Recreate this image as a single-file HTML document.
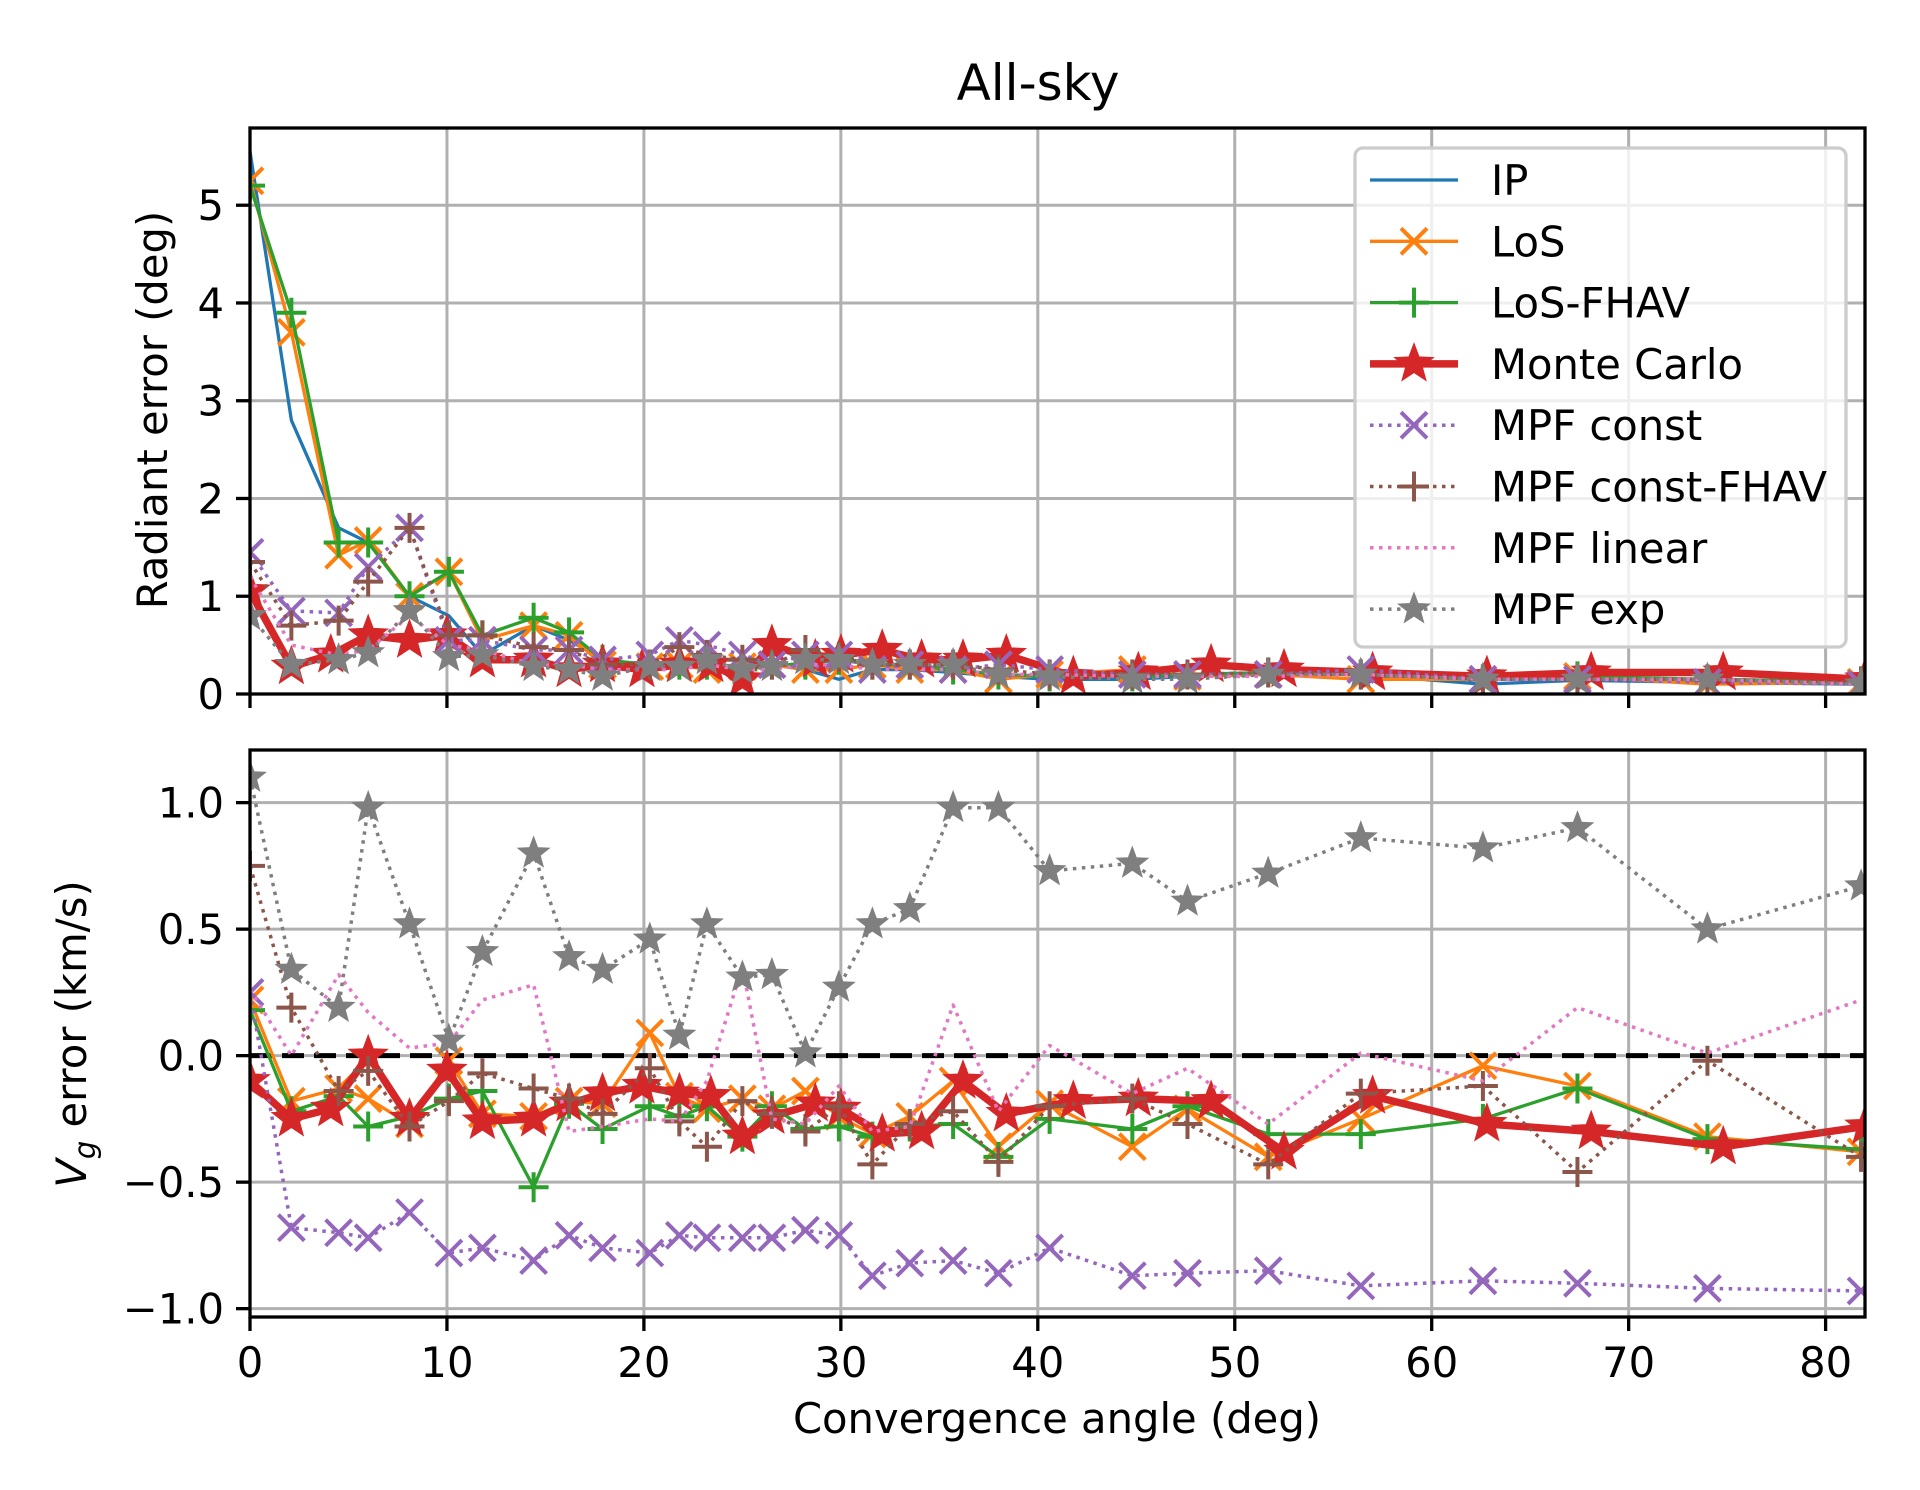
<!DOCTYPE html>
<html><head><meta charset="utf-8">
<style>
html,body{margin:0;padding:0;background:#fff;}
svg{display:block;font-family:"DejaVu Sans","Liberation Sans",sans-serif;}
</style></head>
<body>
<svg id="fig" width="1920" height="1490" viewBox="0 0 1920 1490" xmlns="http://www.w3.org/2000/svg">
<rect width="1920" height="1490" fill="#fff"/>
<text x="1038" y="100" font-size="50" text-anchor="middle">All-sky</text>
<text transform="translate(167,410) rotate(-90)" font-size="41.7" text-anchor="middle">Radiant error (deg)</text>
<text transform="translate(86,1034) rotate(-90)" font-size="41.7" text-anchor="middle"><tspan font-style="italic">V</tspan><tspan font-style="italic" font-size="29" dy="9">g</tspan><tspan dy="-9"> error (km/s)</tspan></text>
<text x="1057" y="1433" font-size="41.7" text-anchor="middle">Convergence angle (deg)</text>
<g id="top"></g>
<g id="bot"></g>
<g id="legend"></g>
</svg>
<script>
// ---- data ----
const xStd = [0,2.1,4.5,6.0,8.1,10.1,11.8,14.4,16.2,17.9,20.3,21.8,23.2,25.0,26.5,28.2,29.9,31.6,33.5,35.7,38.0,40.6,44.8,47.6,51.7,56.4,62.6,67.4,74.0,81.8];
const xMC = [0,2.1,4.1,6.0,8.1,10.0,11.8,14.4,16.2,17.9,19.9,21.8,23.4,25.0,26.5,28.7,30.0,32.1,34.1,36.2,38.4,41.8,45.1,48.8,52.5,57.0,62.8,68.1,74.8,82];
const xTicks = [0,10,20,30,40,50,60,70,80];
const topTicks = [0,1,2,3,4,5];
const botTicks = [-1.0,-0.5,0.0,0.5,1.0];
const botTickLabels = ["\u22121.0","\u22120.5","0.0","0.5","1.0"];

const radIP = [5.55,2.80,1.70,1.55,1.00,0.80,0.40,0.70,0.55,0.35,0.30,0.28,0.30,0.25,0.30,0.25,0.15,0.25,0.25,0.22,0.18,0.15,0.15,0.18,0.20,0.20,0.10,0.14,0.12,0.10];
const radLoS = [5.25,3.70,1.42,1.57,1.00,1.25,0.55,0.70,0.60,0.30,0.28,0.30,0.25,0.28,0.30,0.25,0.25,0.30,0.25,0.25,0.15,0.20,0.25,0.18,0.20,0.15,0.15,0.18,0.10,0.12];
const radLoSF = [5.20,3.90,1.55,1.55,1.00,1.25,0.60,0.78,0.63,0.35,0.30,0.30,0.30,0.25,0.30,0.30,0.35,0.30,0.30,0.25,0.20,0.18,0.18,0.20,0.22,0.20,0.15,0.18,0.15,0.13];
const radMC = [1.05,0.28,0.40,0.60,0.55,0.60,0.35,0.35,0.25,0.30,0.25,0.30,0.30,0.15,0.50,0.35,0.40,0.45,0.35,0.35,0.40,0.18,0.22,0.30,0.25,0.22,0.18,0.22,0.22,0.15];
const radConst = [1.45,0.85,0.83,1.30,1.70,0.55,0.55,0.45,0.45,0.35,0.40,0.55,0.50,0.40,0.30,0.40,0.40,0.25,0.30,0.25,0.30,0.25,0.20,0.20,0.20,0.25,0.15,0.15,0.12,0.10];
const radConstF = [1.35,0.70,0.75,1.15,1.70,0.60,0.60,0.48,0.45,0.30,0.30,0.48,0.40,0.35,0.30,0.45,0.38,0.30,0.30,0.30,0.25,0.20,0.20,0.20,0.22,0.20,0.15,0.15,0.15,0.12];
const radLin = [1.20,0.50,0.40,0.45,0.80,0.50,0.45,0.30,0.30,0.25,0.25,0.25,0.30,0.25,0.25,0.30,0.30,0.25,0.25,0.25,0.20,0.20,0.18,0.18,0.18,0.20,0.15,0.15,0.15,0.10];
const radExp = [0.80,0.30,0.35,0.42,0.85,0.38,0.40,0.28,0.25,0.18,0.28,0.28,0.35,0.25,0.28,0.35,0.35,0.30,0.30,0.30,0.20,0.18,0.15,0.15,0.20,0.20,0.15,0.15,0.15,0.10];

const vgLoS = [0.22,-0.18,-0.13,-0.17,-0.27,-0.02,-0.23,-0.24,-0.18,-0.19,0.09,-0.16,-0.21,-0.17,-0.21,-0.14,-0.24,-0.31,-0.24,-0.10,-0.36,-0.19,-0.36,-0.21,-0.40,-0.25,-0.04,-0.12,-0.32,-0.38];
const vgLoSF = [0.18,-0.22,-0.16,-0.28,-0.24,-0.17,-0.14,-0.52,-0.19,-0.29,-0.20,-0.24,-0.20,-0.32,-0.20,-0.29,-0.28,-0.32,-0.28,-0.27,-0.40,-0.25,-0.29,-0.20,-0.31,-0.31,-0.25,-0.13,-0.33,-0.37];
const vgMC = [-0.10,-0.25,-0.21,0.00,-0.25,-0.06,-0.26,-0.25,-0.19,-0.15,-0.12,-0.15,-0.16,-0.32,-0.24,-0.19,-0.21,-0.31,-0.30,-0.10,-0.23,-0.18,-0.17,-0.18,-0.38,-0.16,-0.27,-0.30,-0.36,-0.28];
const vgConst = [0.25,-0.68,-0.70,-0.72,-0.62,-0.78,-0.76,-0.81,-0.71,-0.76,-0.78,-0.71,-0.72,-0.72,-0.72,-0.69,-0.71,-0.87,-0.82,-0.81,-0.86,-0.76,-0.87,-0.86,-0.85,-0.91,-0.89,-0.90,-0.92,-0.93];
const vgConstF = [0.75,0.19,-0.14,-0.06,-0.28,-0.18,-0.07,-0.13,-0.17,-0.23,-0.05,-0.26,-0.36,-0.18,-0.23,-0.30,-0.20,-0.43,-0.27,-0.22,-0.42,-0.20,-0.17,-0.27,-0.43,-0.15,-0.12,-0.46,-0.02,-0.40];
const vgLin = [0.26,0.00,0.32,0.17,0.03,0.05,0.22,0.28,-0.30,-0.28,-0.25,-0.26,-0.10,0.35,-0.25,-0.27,-0.12,-0.30,-0.28,0.20,-0.22,0.04,-0.15,-0.05,-0.27,0.01,-0.10,0.19,0.01,0.22];
const vgExp = [1.10,0.34,0.19,0.98,0.52,0.06,0.41,0.80,0.39,0.34,0.46,0.08,0.52,0.31,0.32,0.01,0.27,0.52,0.58,0.98,0.98,0.73,0.76,0.61,0.72,0.86,0.82,0.90,0.50,0.67];

// ---- layout ----
const NS = "http://www.w3.org/2000/svg";
const L = 250, R = 1865;
const X0 = 0, X1 = 82;
const xs = v => L + (v - X0) / (X1 - X0) * (R - L);
const topP = {t:128, b:694, min:0, max:5.79};
const botP = {t:750, b:1317, min:-1.033, max:1.208};
const ysFn = p => v => p.b - (v - p.min) / (p.max - p.min) * (p.b - p.t);
const yTop = ysFn(topP), yBot = ysFn(botP);

function mk(tag, attrs, parent){
  const e = document.createElementNS(NS, tag);
  for (const k in attrs) e.setAttribute(k, attrs[k]);
  parent.appendChild(e);
  return e;
}

const styles = {
  IP:{c:"#1f77b4", w:3.3, dash:null, m:null},
  LoS:{c:"#ff7f0e", w:3.3, dash:null, m:"x"},
  LoSF:{c:"#2ca02c", w:3.3, dash:null, m:"+"},
  MC:{c:"#d62728", w:7.5, dash:null, m:"starBig"},
  Const:{c:"#9467bd", w:3.5, dash:"3.5 5.5", m:"x"},
  ConstF:{c:"#8c564b", w:3.5, dash:"3.5 5.5", m:"+"},
  Lin:{c:"#e377c2", w:3.5, dash:"3.5 5.5", m:null},
  Exp:{c:"#7f7f7f", w:3.5, dash:"3.5 5.5", m:"star"}
};

function starPath(cx, cy, r){
  let d = "";
  for (let i=0;i<10;i++){
    const a = -Math.PI/2 + i*Math.PI/5;
    const rr = i%2===0 ? r : r*0.42;
    d += (i?"L":"M") + (cx + rr*Math.cos(a)).toFixed(1) + " " + (cy + rr*Math.sin(a)).toFixed(1);
  }
  return d + "Z";
}

function drawMarker(g, type, cx, cy, c){
  if (type === "x"){
    const s = 13;
    const p = mk("path", {d:`M${cx-s} ${cy-s}L${cx+s} ${cy+s}M${cx-s} ${cy+s}L${cx+s} ${cy-s}`, stroke:c, "stroke-width":4, fill:"none"}, g);
    
    
  } else if (type === "+"){
    const s = 15;
    const p = mk("path", {d:`M${cx-s} ${cy}L${cx+s} ${cy}M${cx} ${cy-s}L${cx} ${cy+s}`, stroke:c, "stroke-width":4, fill:"none"}, g);
    
    
  } else if (type === "star" || type === "starBig"){
    const r = type === "star" ? 15 : 19;
    const p = mk("path", {d:starPath(cx, cy, r), fill:c, stroke:c, "stroke-width":2}, g);
    
    
  }
}

function drawSeries(parent, name, xArr, yArr, yfn, st){
  const g = mk("g", {}, parent);
  
  
  const pts = xArr.map((x,i)=> xs(x).toFixed(1)+","+yfn(yArr[i]).toFixed(1)).join(" ");
  const line = mk("polyline", {points:pts, fill:"none", stroke:st.c, "stroke-width":st.w, "stroke-linejoin":"round"}, g);
  if (st.dash) line.setAttribute("stroke-dasharray", st.dash);
  
  
  if (st.m) xArr.forEach((x,i)=> drawMarker(g, st.m, xs(x), yfn(yArr[i]), st.c));
}

function drawAxes(g, p, yfn, ticks, prefix){
  const clipId = prefix + "-clip";
  const defs = mk("defs", {}, g);
  const cp = mk("clipPath", {id:clipId}, defs);
  mk("rect", {x:L, y:p.t, width:R-L, height:p.b-p.t}, cp);
  const grid = mk("g", {stroke:"#b0b0b0", "stroke-width":3}, g);
  
  
  xTicks.forEach(v => mk("line", {x1:xs(v), x2:xs(v), y1:p.t, y2:p.b}, grid));
  ticks.forEach(v => mk("line", {x1:L, x2:R, y1:yfn(v), y2:yfn(v)}, grid));
  const plot = mk("g", {"clip-path":`url(#${clipId})`}, g);
  
  
  return plot;
}

function finishAxes(g, p, yfn, ticks, labels, showXLabels, prefix){
  const sp = mk("rect", {x:L, y:p.t, width:R-L, height:p.b-p.t, fill:"none", stroke:"#000", "stroke-width":3.3}, g);
  
  
  const tg = mk("g", {stroke:"#000", "stroke-width":3.3}, g);
  xTicks.forEach(v => mk("line", {x1:xs(v), x2:xs(v), y1:p.b, y2:p.b+14}, tg));
  ticks.forEach(v => mk("line", {x1:L-14, x2:L, y1:yfn(v), y2:yfn(v)}, tg));
  const yl = mk("g", {"font-size":41.7, "text-anchor":"end"}, g);
  
  
  ticks.forEach((v,i) => { const t = mk("text", {x:L-26, y:yfn(v)+15}, yl); t.textContent = labels[i]; });
  if (showXLabels){
    const xl = mk("g", {"font-size":41.7, "text-anchor":"middle"}, g);
    
    
    xTicks.forEach(v => { const t = mk("text", {x:xs(v), y:p.b+60}, xl); t.textContent = String(v); });
  }
}

// top panel
const gTop = document.getElementById("top");
const pTop = drawAxes(gTop, topP, yTop, topTicks, "top");
drawSeries(pTop, "ip-radiant", xStd, radIP, yTop, styles.IP);
drawSeries(pTop, "los-radiant", xStd, radLoS, yTop, styles.LoS);
drawSeries(pTop, "los-fhav-radiant", xStd, radLoSF, yTop, styles.LoSF);
drawSeries(pTop, "monte-carlo-radiant", xMC, radMC, yTop, styles.MC);
drawSeries(pTop, "mpf-const-radiant", xStd, radConst, yTop, styles.Const);
drawSeries(pTop, "mpf-const-fhav-radiant", xStd, radConstF, yTop, styles.ConstF);
drawSeries(pTop, "mpf-linear-radiant", xStd, radLin, yTop, styles.Lin);
drawSeries(pTop, "mpf-exp-radiant", xStd, radExp, yTop, styles.Exp);
finishAxes(gTop, topP, yTop, topTicks, topTicks.map(String), false, "top");

// bottom panel
const gBot = document.getElementById("bot");
const pBot = drawAxes(gBot, botP, yBot, botTicks, "bottom");
const zl = mk("line", {x1:L, x2:R, y1:yBot(0), y2:yBot(0), stroke:"#000", "stroke-width":5, "stroke-dasharray":"22 10"}, pBot);


drawSeries(pBot, "los-vg", xStd, vgLoS, yBot, styles.LoS);
drawSeries(pBot, "los-fhav-vg", xStd, vgLoSF, yBot, styles.LoSF);
drawSeries(pBot, "monte-carlo-vg", xMC, vgMC, yBot, styles.MC);
drawSeries(pBot, "mpf-const-vg", xStd, vgConst, yBot, styles.Const);
drawSeries(pBot, "mpf-const-fhav-vg", xStd, vgConstF, yBot, styles.ConstF);
drawSeries(pBot, "mpf-linear-vg", xStd, vgLin, yBot, styles.Lin);
drawSeries(pBot, "mpf-exp-vg", xStd, vgExp, yBot, styles.Exp);
finishAxes(gBot, botP, yBot, botTicks, botTickLabels, true, "bottom");

// legend
const lg = document.getElementById("legend");
const box = mk("rect", {x:1355, y:148, width:491, height:499, rx:8, fill:"#fff", "fill-opacity":0.8, stroke:"#cccccc", "stroke-width":3.3}, lg);


const legNames = ["IP","LoS","LoS-FHAV","Monte Carlo","MPF const","MPF const-FHAV","MPF linear","MPF exp"];
const legKeys = ["IP","LoS","LoSF","MC","Const","ConstF","Lin","Exp"];
legNames.forEach((n,i)=>{
  const y = 180 + i*61.3;
  const st = styles[legKeys[i]];
  const e = mk("g", {}, lg);
  
  
  const ln = mk("line", {x1:1370, x2:1458, y1:y, y2:y, stroke:st.c, "stroke-width":st.w}, e);
  if (st.dash) ln.setAttribute("stroke-dasharray", st.dash);
  if (st.m) drawMarker(e, st.m, 1414, y, st.c);
  const t = mk("text", {x:1491, y:y+15, "font-size":41.7}, e);
  t.textContent = n;
});
</script>
</body></html>
